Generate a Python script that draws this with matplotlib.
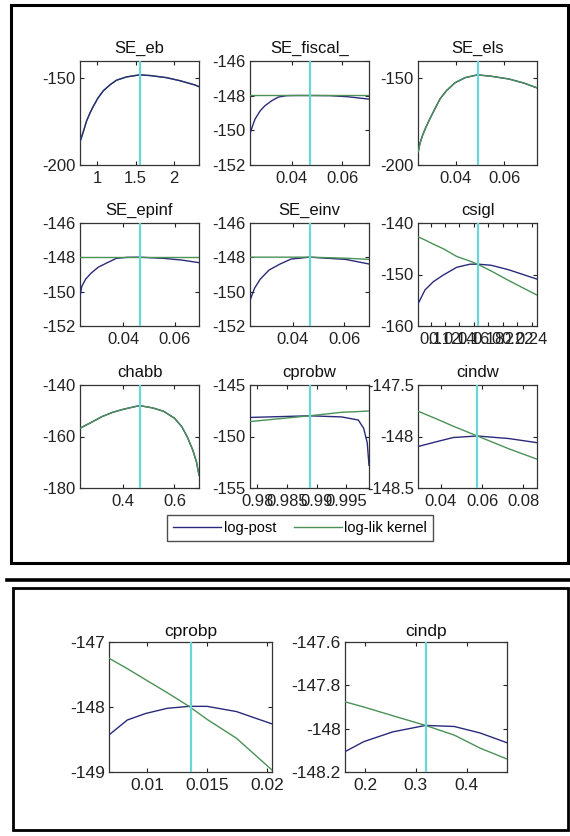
import matplotlib
matplotlib.use("Agg")
import matplotlib.pyplot as plt
from matplotlib.patches import Rectangle
from matplotlib.lines import Line2D

# ---------------- data ----------------
titles_top = ["SE_eb", "SE_fiscal_", "SE_els", "SE_epinf", "SE_einv", "csigl",
              "chabb", "cprobw", "cindw"]
titles_bot = ["cprobp", "cindp"]

eb_x = [0.78, 0.82, 0.86, 0.905, 0.95, 1.01, 1.08, 1.17, 1.25, 1.38, 1.55, 1.69, 1.90, 2.08, 2.27, 2.325]
eb_post = [-186, -180.5, -174.7, -170, -166, -161.3, -157.1, -153.6, -151.1, -149.2, -148.0,
           -148.4, -149.6, -151.4, -153.8, -154.8]
eb_lik = [-186, -180.5, -174.7, -170, -166, -161.3, -157.1, -153.6, -151.1, -149.2, -148.0,
          -148.4, -149.6, -151.4, -153.8, -154.8]

fis_x = [0.0235, 0.0244, 0.0255, 0.0275, 0.0294, 0.0321, 0.0347, 0.0380, 0.0413, 0.047, 0.055, 0.062, 0.0705]
fis_post = [-150.2, -149.79, -149.35, -148.88, -148.58, -148.29, -148.08, -148.0, -147.99, -147.99,
            -148.0, -148.06, -148.2]
fis_lik = [-147.99] * 13

els_x = [0.0246, 0.0253, 0.0264, 0.0278, 0.0294, 0.0315, 0.0336, 0.0363, 0.0397, 0.0439, 0.049,
         0.0546, 0.0620, 0.0680, 0.0735]
els_post = [-192.4, -187.6, -182.8, -178.1, -173.3, -167.5, -161.8, -157, -152.6, -149.6, -148.0,
            -148.8, -150.4, -152.7, -155.5]
els_lik = [-192.4, -187.6, -182.8, -178.1, -173.3, -167.5, -161.8, -157, -152.6, -149.6, -148.0,
           -148.8, -150.4, -152.7, -155.5]

epi_x = [0.0232, 0.0238, 0.0253, 0.0274, 0.0302, 0.0338, 0.0373, 0.0415, 0.0463, 0.0557, 0.0628, 0.0694]
epi_post = [-150.25, -149.71, -149.28, -148.93, -148.58, -148.31, -148.06, -148.0, -147.99,
            -148.06, -148.16, -148.31]
epi_lik = [-147.99] * 12

inv_x = [0.0233, 0.0250, 0.0272, 0.0307, 0.0350, 0.0393, 0.0465, 0.0606, 0.0698]
inv_post = [-150.49, -149.81, -149.28, -148.74, -148.39, -148.1, -147.99, -148.12, -148.39]
inv_lik = [-147.99, -147.99, -147.99, -147.99, -147.99, -147.99, -147.99, -148.05, -148.12]

csi_x = [0.0829, 0.0922, 0.1037, 0.1176, 0.1362, 0.1546, 0.165, 0.1837, 0.2087, 0.2475]
csi_post = [-155.6, -153.0, -151.4, -150.1, -148.6, -148.0, -147.99, -148.2, -149.1, -150.9]
csi_lik = [-142.7, -143.3, -144.1, -145.0, -146.5, -147.4, -147.99, -149.3, -151.2, -154.0]

hab_x = [0.232, 0.2745, 0.317, 0.3595, 0.402, 0.464, 0.5155, 0.558, 0.6005, 0.629, 0.650,
         0.6715, 0.686, 0.696]
hab_post = [-156.8, -154.6, -152.3, -150.6, -149.4, -148.0, -148.9, -150.2, -152.9, -156.2,
            -160.1, -165.2, -169.8, -175.0]
hab_lik = [-156.8, -154.6, -152.3, -150.6, -149.4, -148.0, -148.9, -150.2, -152.9, -156.2,
           -160.1, -165.2, -169.8, -175.0]

pw_x = [0.9788, 0.9838, 0.9888, 0.9942, 0.9970, 0.9979, 0.9985, 0.9988]
pw_post = [-148.15, -148.07, -147.99, -148.1, -148.4, -149.2, -150.6, -152.8]
pw_lik = [-148.55, -148.27, -147.99, -147.65, -147.58, -147.55, -147.53, -147.52]

iw_x = [0.0290, 0.0380, 0.0460, 0.0577, 0.0731, 0.0867]
iw_post = [-148.097, -148.05, -148.01, -147.995, -148.02, -148.06]
iw_lik = [-147.755, -147.83, -147.90, -147.995, -148.12, -148.22]

pp_x = [0.0068, 0.00833, 0.00985, 0.01166, 0.01348, 0.01498, 0.01743, 0.0204]
pp_post = [-148.43, -148.2, -148.1, -148.02, -147.99, -147.99, -148.07, -148.26]
pp_lik = [-147.25, -147.41, -147.58, -147.78, -147.99, -148.19, -148.48, -148.97]

ip_x = [0.16, 0.197, 0.254, 0.319, 0.376, 0.427, 0.48]
ip_post = [-148.106, -148.06, -148.015, -147.985, -147.99, -148.02, -148.065]
ip_lik = [-147.876, -147.90, -147.94, -147.985, -148.03, -148.09, -148.14]

modes_top = [1.55, 0.047, 0.049, 0.0463, 0.0465, 0.165, 0.464, 0.9888, 0.0578]
modes_bot = [0.0136, 0.32]

xlims_top = [(0.775, 2.325), (0.0235, 0.0705), (0.0245, 0.0735), (0.02315, 0.06945),
             (0.02325, 0.06975), (0.0825, 0.2475), (0.232, 0.696), (0.9788, 0.9988),
             (0.0289, 0.0867)]
ylims_top = [(-200, -140), (-152, -146), (-200, -140), (-152, -146), (-152, -146),
             (-160, -140), (-180, -140), (-155, -145), (-148.5, -147.5)]
xlims_bot = [(0.0068, 0.0204), (0.16, 0.48)]
ylims_bot = [(-149, -147), (-148.2, -147.6)]

xticks_top = [[1, 1.5, 2], [0.04, 0.06], [0.04, 0.06], [0.04, 0.06], [0.04, 0.06],
              [0.1, 0.12, 0.14, 0.16, 0.18, 0.2, 0.22, 0.24], [0.4, 0.6],
              [0.98, 0.985, 0.99, 0.995], [0.04, 0.06, 0.08]]
xticklabels_top = [["1", "1.5", "2"], ["0.04", "0.06"], ["0.04", "0.06"], ["0.04", "0.06"],
                   ["0.04", "0.06"],
                   ["0.1", "0.12", "0.14", "0.16", "0.18", "0.2", "0.22", "0.24"],
                   ["0.4", "0.6"], ["0.98", "0.985", "0.99", "0.995"],
                   ["0.04", "0.06", "0.08"]]
yticks_top = [[-200, -150], [-152, -150, -148, -146], [-200, -150],
              [-152, -150, -148, -146], [-152, -150, -148, -146], [-160, -150, -140],
              [-180, -160, -140], [-155, -150, -145], [-148.5, -148, -147.5]]
yticklabels_top = [["-200", "-150"], ["-152", "-150", "-148", "-146"], ["-200", "-150"],
                   ["-152", "-150", "-148", "-146"], ["-152", "-150", "-148", "-146"],
                   ["-160", "-150", "-140"], ["-180", "-160", "-140"],
                   ["-155", "-150", "-145"], ["-148.5", "-148", "-147.5"]]
xticks_bot = [[0.01, 0.015, 0.02], [0.2, 0.3, 0.4]]
xticklabels_bot = [["0.01", "0.015", "0.02"], ["0.2", "0.3", "0.4"]]
yticks_bot = [[-149, -148, -147], [-148.2, -148, -147.8, -147.6]]
yticklabels_bot = [["-149", "-148", "-147"], ["-148.2", "-148", "-147.8", "-147.6"]]

legend_labels = ["log-post", "log-lik kernel"]

# ---------------- style ----------------
C_POST = "#2a2a7c"
C_LIK = "#4a9256"
C_MODE = "#6ad6d8"
FAM = ["Liberation Sans", "DejaVu Sans"]
post_on_top = [True, False, False, False, False, False, False, False, False]

W, H = 570, 836
fig = plt.figure(figsize=(W / 100, H / 100), dpi=100)
fig.patch.set_facecolor("white")


def px_axes(l, t, r, b):
    return fig.add_axes([l / W, 1 - b / H, (r - l) / W, (b - t) / H])


def draw(ax, title, x, post, lik, mode, xlim, ylim, xt, xtl, yt, ytl, fs, tpad, ptop=False):
    ax.plot(x, post, color=C_POST, lw=1.0, zorder=4.5 if ptop else 3)
    ax.plot(x, lik, color=C_LIK, lw=1.0, zorder=4)
    ax.axvline(mode, color=C_MODE, lw=1.6, zorder=5)
    ax.set_xlim(*xlim)
    ax.set_ylim(*ylim)
    ax.set_xticks(xt)
    ax.set_xticklabels(xtl, fontsize=fs, family=FAM)
    ax.set_yticks(yt)
    ax.set_yticklabels(ytl, fontsize=fs, family=FAM)
    ax.tick_params(direction="in", top=True, right=True, length=3, width=0.8,
                   colors="#222222", pad=3)
    ax.tick_params(axis="x", pad=4)
    for s in ax.spines.values():
        s.set_color("#333333")
        s.set_linewidth(0.9)
    ax.set_title(title, fontsize=fs, family=FAM, pad=tpad, color="#111111")


top_x = [eb_x, fis_x, els_x, epi_x, inv_x, csi_x, hab_x, pw_x, iw_x]
top_post = [eb_post, fis_post, els_post, epi_post, inv_post, csi_post, hab_post, pw_post, iw_post]
top_lik = [eb_lik, fis_lik, els_lik, epi_lik, inv_lik, csi_lik, hab_lik, pw_lik, iw_lik]

cols = [(80, 199), (250, 369), (418, 537)]
rows = [(61, 165), (223, 326), (385, 488)]
for i in range(9):
    r, c = divmod(i, 3)
    ax = px_axes(cols[c][0], rows[r][0], cols[c][1], rows[r][1])
    draw(ax, titles_top[i], top_x[i], top_post[i], top_lik[i], modes_top[i],
         xlims_top[i], ylims_top[i], xticks_top[i], xticklabels_top[i],
         yticks_top[i], yticklabels_top[i], 12, 6, post_on_top[i])

handles = [Line2D([], [], color=C_POST, lw=1.0), Line2D([], [], color=C_LIK, lw=1.0)]
leg = fig.legend(handles, legend_labels, loc="center", bbox_to_anchor=(300 / W, 1 - 528 / H),
                 ncol=2, frameon=True, fancybox=False, handlelength=3.3, handletextpad=0.15,
                 columnspacing=1.2, borderpad=0.4, borderaxespad=0,
                 prop={"family": FAM, "size": 10.5})
leg.get_frame().set_edgecolor("#222222")
leg.get_frame().set_linewidth(1.0)

bot_x = [pp_x, ip_x]
bot_post = [pp_post, ip_post]
bot_lik = [pp_lik, ip_lik]
bcols = [(109, 272), (345, 507)]
for i in range(2):
    ax = px_axes(bcols[i][0], 642, bcols[i][1], 772)
    draw(ax, titles_bot[i], bot_x[i], bot_post[i], bot_lik[i], modes_bot[i],
         xlims_bot[i], ylims_bot[i], xticks_bot[i], xticklabels_bot[i],
         yticks_bot[i], yticklabels_bot[i], 12.5, 4)

# frames
fig.add_artist(Rectangle((11 / W, 1 - 563 / H), (568 - 11) / W, (563 - 5) / H, fill=False,
                         lw=2.2, ec="black", transform=fig.transFigure))
fig.add_artist(Line2D([7 / W, 1.0], [1 - 580 / H, 1 - 580 / H], lw=2.6, color="black",
                      transform=fig.transFigure))
fig.add_artist(Rectangle((13 / W, 1 - 830 / H), (568 - 13) / W, (830 - 588) / H, fill=False,
                         lw=2.0, ec="black", transform=fig.transFigure))

fig.savefig("out.png", dpi=100)
